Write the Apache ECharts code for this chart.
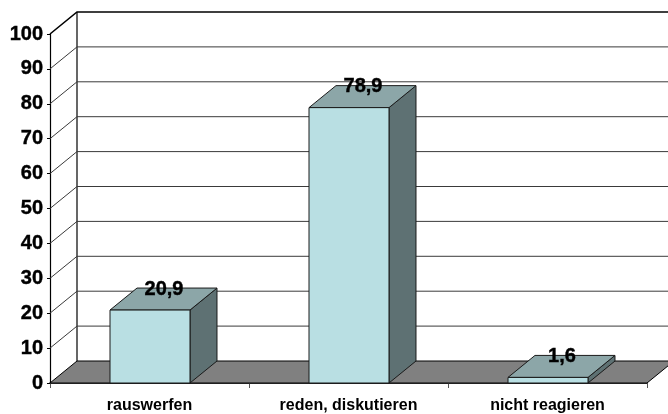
<!DOCTYPE html>
<html>
<head>
<meta charset="utf-8">
<style>html,body{margin:0;padding:0;background:#fff}#c{width:668px;height:414px}</style>
<script src="https://cdn.jsdelivr.net/npm/echarts@6/dist/echarts.min.js"></script>
</head>
<body>
<div id="c"></div>
<script>
const categories = ['rauswerfen', 'reden, diskutieren', 'nicht reagieren'];
const values = [20.9, 78.9, 1.6];
const yTicks = [0, 10, 20, 30, 40, 50, 60, 70, 80, 90, 100];

const DX = 27, DY = -22;
const FONT = '"Liberation Sans", Arial, sans-serif';
const chart = echarts.init(document.getElementById('c'), null, {renderer: 'canvas'});

function renderWall(params, api) {
  const v = api.value(1);
  const cs = params.coordSys;
  const left = cs.x, right = cs.x + cs.width;
  const y = api.coord([0, v])[1];
  const children = [];
  if (v === 0) {
    children.push({
      type: 'polygon',
      shape: {points: [[left, y], [left + DX, y + DY], [right + DX, y + DY], [right, y]]},
      style: {fill: '#808080', stroke: '#000', lineWidth: 1}
    });
    children.push({
      type: 'line',
      shape: {x1: left + DX, y1: y + DY, x2: left + DX, y2: api.coord([0, 100])[1] + DY},
      style: {stroke: '#000', lineWidth: 1.2}
    });
  } else {
    children.push({
      type: 'polyline',
      shape: {points: [[left, y], [left + DX, y + DY], [right + DX, y + DY]]},
      style: {fill: null, stroke: v === 100 ? '#000' : '#3a3a3a', lineWidth: v === 100 ? 1.6 : 1}
    });
  }
  return {type: 'group', children};
}

function renderBar(params, api) {
  const i = api.value(0), v = api.value(1);
  const top = api.coord([i, v]);
  const base = api.coord([i, 0]);
  const w = api.size([1, 0])[0] * 0.402;
  const x0 = top[0] - w / 2 + 0.5, x1 = top[0] + w / 2 + 0.5;
  const border = {stroke: '#1a1a1a', lineWidth: 1, lineJoin: 'round'};
  return {
    type: 'group',
    children: [
      {type: 'polygon', shape: {points: [[x1, top[1]], [x1 + DX, top[1] + DY], [x1 + DX, base[1] + DY], [x1, base[1]]]},
        style: Object.assign({fill: '#5E7173'}, border)},
      {type: 'polygon', shape: {points: [[x0, top[1]], [x0 + DX, top[1] + DY], [x1 + DX, top[1] + DY], [x1, top[1]]]},
        style: Object.assign({fill: '#8CA6A8'}, border)},
      {type: 'rect', shape: {x: x0, y: top[1], width: x1 - x0, height: base[1] - top[1]},
        style: Object.assign({fill: '#B9DFE3'}, border)},
      {type: 'text', x: top[0] + DX / 2 + 1, y: top[1] + DY / 2 - 10,
        style: {text: String(v).replace('.', ','), fill: '#000', font: 'bold 20px ' + FONT,
          align: 'center', verticalAlign: 'middle', stroke: '#000', lineWidth: 0.4}}
    ]
  };
}

chart.setOption({
  animation: false,
  backgroundColor: '#fff',
  grid: {left: 50, right: 21, top: 34, bottom: 31},
  xAxis: {
    type: 'category', data: categories,
    axisLine: {show: true, onZero: false, lineStyle: {color: '#000', width: 1.5}},
    axisTick: {show: true, length: 5, lineStyle: {color: '#555', width: 1}},
    axisLabel: {color: '#000', fontFamily: FONT, fontWeight: 'bold', fontSize: 16, margin: 15},
    splitLine: {show: false}
  },
  yAxis: {
    type: 'value', min: 0, max: 100, interval: 10,
    axisLine: {show: true, lineStyle: {color: '#000', width: 1.2}},
    axisTick: {show: true, length: 3, lineStyle: {color: '#000', width: 1}},
    axisLabel: {color: '#000', fontFamily: FONT, fontWeight: 'bold', fontSize: 20, margin: 7,
      textBorderColor: '#000', textBorderWidth: 0.4},
    splitLine: {show: false}
  },
  series: [
    {type: 'custom', coordinateSystem: 'cartesian2d', clip: false, z: 1, silent: true,
      renderItem: renderWall,
      data: yTicks.map(t => [0, t]), encode: {x: 0, y: 1}},
    {type: 'custom', coordinateSystem: 'cartesian2d', clip: false, z: 3, silent: true,
      renderItem: renderBar,
      data: values.map((v, i) => [i, v]), encode: {x: 0, y: 1}}
  ]
});
</script>
</body>
</html>
